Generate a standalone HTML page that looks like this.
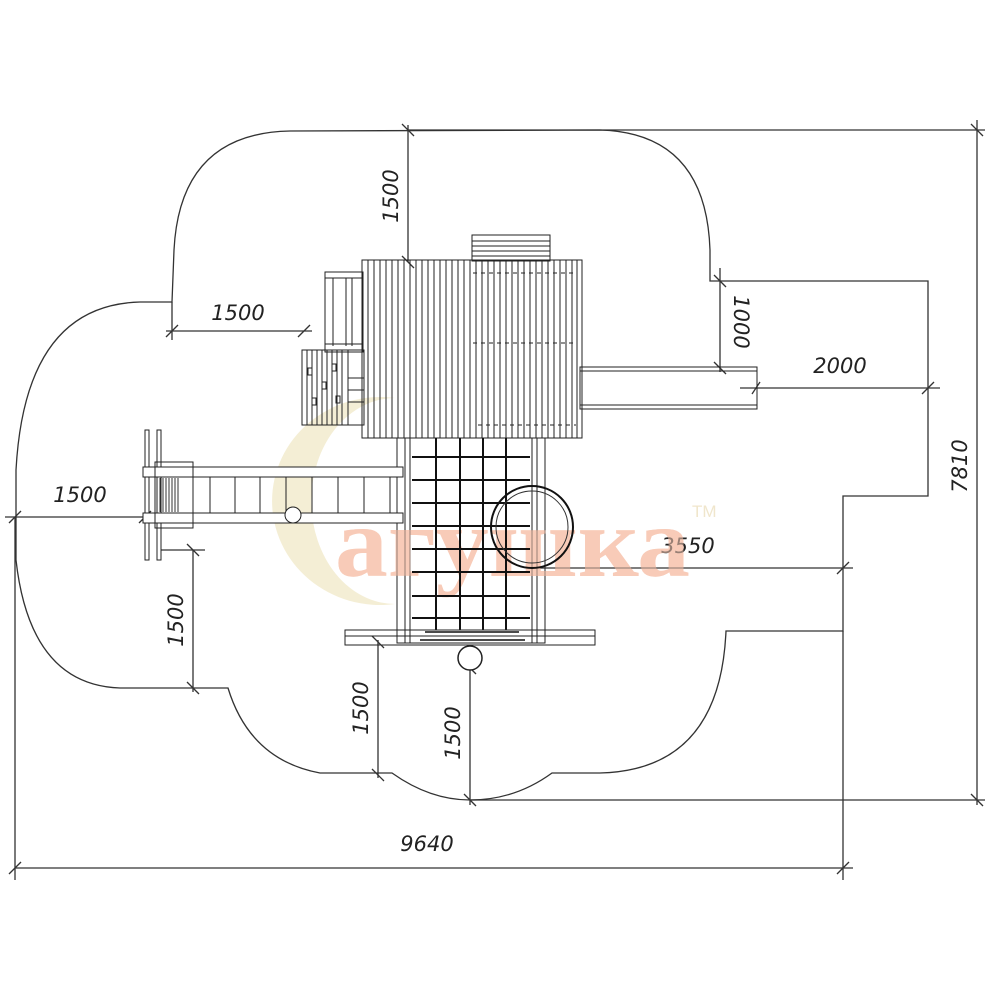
<!DOCTYPE html>
<html><head><meta charset="utf-8"><style>
html,body{margin:0;padding:0;background:#fff;}
svg{display:block}
.l{stroke:#333;stroke-width:1.3;fill:none}
.t{font-family:"DejaVu Sans","Liberation Sans",sans-serif;font-style:italic;font-size:21px;fill:#222;}
.s{stroke:#222;stroke-width:1;fill:none}
</style></head><body>
<svg width="1000" height="1000" viewBox="0 0 1000 1000" xmlns="http://www.w3.org/2000/svg">
<!-- watermark -->
<path d="M395,398 A108,104 0 1 0 395,604 A78,96 0 1 1 395,398 Z" fill="#f3ecd0" opacity="0.9"/>
<text x="335" y="576" font-family="Liberation Serif,serif" font-weight="bold" font-size="100" fill="#f8cbb8" textLength="355" lengthAdjust="spacingAndGlyphs">агушка</text>
<text x="692" y="517" font-family="Liberation Sans,sans-serif" font-size="17" fill="#f0e6cc">TM</text>

<!-- outline -->
<path class="l" d="M172,302 L174,250 Q180,133 290,131 L600,130 Q706,133 710,250 L710,281 L928,281 L928,496 L843,496 L843,631 L726,631 Q720,770 600,773 L552,773 Q515,800 470,800 Q430,800 392,773 L376,773 L320,773 Q250,760 228,688 L120,688 Q30,685 16,560 L16,470 Q25,305 140,302 Z"/>

<!-- dimension lines -->
<g class="l">
<line x1="408" y1="125" x2="408" y2="262"/><line x1="408" y1="130" x2="985" y2="130"/>
<line x1="166" y1="331" x2="312" y2="331"/><line x1="172" y1="302" x2="172" y2="340"/>
<line x1="720" y1="268" x2="720" y2="372"/>
<line x1="740" y1="388" x2="940" y2="388"/>
<line x1="977" y1="120" x2="977" y2="805"/>
<line x1="5" y1="517" x2="145" y2="517"/>
<line x1="193" y1="550" x2="193" y2="692"/><line x1="160" y1="550" x2="205" y2="550"/>
<line x1="378" y1="640" x2="378" y2="778"/>
<line x1="470" y1="668" x2="470" y2="805"/><line x1="470" y1="800" x2="985" y2="800"/>
<line x1="540" y1="568" x2="853" y2="568"/>
<line x1="15" y1="868" x2="853" y2="868"/><line x1="15" y1="517" x2="15" y2="880"/><line x1="843" y1="631" x2="843" y2="880"/>
</g>
<g class="l" stroke-width="1.4">
<line x1="402" y1="124" x2="414" y2="136"/><line x1="402" y1="256" x2="414" y2="268"/>
<line x1="166" y1="337" x2="178" y2="325"/><line x1="298" y1="337" x2="310" y2="325"/>
<line x1="714" y1="275" x2="726" y2="287"/><line x1="714" y1="362" x2="726" y2="374"/>
<line x1="752" y1="394" x2="760" y2="382"/><line x1="922" y1="394" x2="934" y2="382"/>
<line x1="971" y1="124" x2="983" y2="136"/><line x1="971" y1="794" x2="983" y2="806"/>
<line x1="9" y1="523" x2="21" y2="511"/><line x1="139" y1="523" x2="151" y2="511"/>
<line x1="187" y1="544" x2="199" y2="556"/><line x1="187" y1="682" x2="199" y2="694"/>
<line x1="372" y1="636" x2="384" y2="648"/><line x1="372" y1="769" x2="384" y2="781"/>
<line x1="464" y1="662" x2="476" y2="674"/><line x1="464" y1="794" x2="476" y2="806"/>
<line x1="837" y1="574" x2="849" y2="562"/>
<line x1="9" y1="874" x2="21" y2="862"/><line x1="837" y1="874" x2="849" y2="862"/>
</g>
<!-- labels -->
<text class="t" transform="translate(398,196) rotate(-90)" text-anchor="middle">1500</text>
<text class="t" x="238" y="320" text-anchor="middle">1500</text>
<text class="t" transform="translate(734,322) rotate(90)" text-anchor="middle">1000</text>
<text class="t" x="840" y="373" text-anchor="middle">2000</text>
<text class="t" transform="translate(967,466) rotate(-90)" text-anchor="middle">7810</text>
<text class="t" x="80" y="502" text-anchor="middle">1500</text>
<text class="t" transform="translate(183,620) rotate(-90)" text-anchor="middle">1500</text>
<text class="t" transform="translate(368,708) rotate(-90)" text-anchor="middle">1500</text>
<text class="t" transform="translate(460,733) rotate(-90)" text-anchor="middle">1500</text>
<text class="t" x="688" y="553" text-anchor="middle">3550</text>
<text class="t" x="427" y="851" text-anchor="middle">9640</text>

<!-- slide right -->
<rect class="s" x="580" y="367" width="177" height="42" fill="#fff"/>
<line class="s" x1="580" y1="371" x2="757" y2="371"/><line class="s" x1="580" y1="405" x2="757" y2="405"/>

<!-- top box -->
<rect class="s" x="472" y="235" width="78" height="26" fill="#fff"/>
<g class="s"><line x1="472" y1="241" x2="550" y2="241"/><line x1="472" y1="246" x2="550" y2="246"/><line x1="472" y1="251" x2="550" y2="251"/><line x1="472" y1="256" x2="550" y2="256"/></g>

<!-- small stairs top-left -->
<rect class="s" x="325" y="272" width="38" height="80" fill="#fff"/>
<g class="s"><line x1="333" y1="278" x2="333" y2="346"/><line x1="346" y1="278" x2="346" y2="346"/><line x1="352" y1="278" x2="352" y2="346"/><line x1="325" y1="278" x2="363" y2="278"/><line x1="325" y1="344" x2="363" y2="344"/></g>
<!-- platform -->
<rect class="s" x="302" y="350" width="62" height="75" fill="#fff"/>
<g class="s">
<line x1="307" y1="350" x2="307" y2="425"/><line x1="312" y1="350" x2="312" y2="425"/><line x1="317" y1="350" x2="317" y2="425"/><line x1="322" y1="350" x2="322" y2="425"/><line x1="327" y1="350" x2="327" y2="425"/><line x1="332" y1="350" x2="332" y2="425"/><line x1="337" y1="350" x2="337" y2="425"/><line x1="342" y1="350" x2="342" y2="425"/><line x1="348" y1="350" x2="348" y2="425"/>
<line x1="348" y1="378" x2="364" y2="378"/><line x1="348" y1="390" x2="364" y2="390"/><line x1="348" y1="402" x2="364" y2="402"/>
<rect x="308" y="368" width="4" height="7"/><rect x="332" y="364" width="4" height="7"/><rect x="322" y="382" width="4" height="7"/><rect x="312" y="398" width="4" height="7"/><rect x="336" y="396" width="4" height="7"/>
</g>

<!-- roof -->
<rect class="s" x="362" y="260" width="220" height="178" fill="#fff"/>
<g class="s" stroke-width="0.9">
<line x1="368" y1="260" x2="368" y2="438"/><line x1="374" y1="260" x2="374" y2="438"/><line x1="380" y1="260" x2="380" y2="438"/><line x1="386" y1="260" x2="386" y2="438"/><line x1="392" y1="260" x2="392" y2="438"/><line x1="398" y1="260" x2="398" y2="438"/><line x1="404" y1="260" x2="404" y2="438"/><line x1="410" y1="260" x2="410" y2="438"/><line x1="416" y1="260" x2="416" y2="438"/><line x1="422" y1="260" x2="422" y2="438"/><line x1="428" y1="260" x2="428" y2="438"/><line x1="434" y1="260" x2="434" y2="438"/><line x1="440" y1="260" x2="440" y2="438"/><line x1="446" y1="260" x2="446" y2="438"/><line x1="452" y1="260" x2="452" y2="438"/><line x1="458" y1="260" x2="458" y2="438"/><line x1="464" y1="260" x2="464" y2="438"/><line x1="470" y1="260" x2="470" y2="438"/><line x1="476" y1="260" x2="476" y2="438"/><line x1="482" y1="260" x2="482" y2="438"/><line x1="488" y1="260" x2="488" y2="438"/><line x1="494" y1="260" x2="494" y2="438"/><line x1="500" y1="260" x2="500" y2="438"/><line x1="506" y1="260" x2="506" y2="438"/><line x1="512" y1="260" x2="512" y2="438"/><line x1="518" y1="260" x2="518" y2="438"/><line x1="524" y1="260" x2="524" y2="438"/><line x1="530" y1="260" x2="530" y2="438"/><line x1="536" y1="260" x2="536" y2="438"/><line x1="542" y1="260" x2="542" y2="438"/><line x1="548" y1="260" x2="548" y2="438"/><line x1="554" y1="260" x2="554" y2="438"/><line x1="560" y1="260" x2="560" y2="438"/><line x1="566" y1="260" x2="566" y2="438"/><line x1="572" y1="260" x2="572" y2="438"/><line x1="577" y1="260" x2="577" y2="438"/>
</g>
<g stroke="#222" stroke-width="1" stroke-dasharray="4,4"><line x1="473" y1="273" x2="576" y2="273"/><line x1="473" y1="343" x2="576" y2="343"/><line x1="478" y1="425" x2="576" y2="425"/></g>

<!-- tower -->
<rect class="s" x="397" y="438" width="148" height="205" fill="#fff"/>
<g class="s"><line x1="405" y1="438" x2="405" y2="643"/><line x1="410" y1="438" x2="410" y2="643"/><line x1="532" y1="438" x2="532" y2="643"/><line x1="537" y1="438" x2="537" y2="643"/></g>
<text x="335" y="576" font-family="Liberation Serif,serif" font-weight="bold" font-size="100" fill="#f8cbb8" opacity="0.55" textLength="355" lengthAdjust="spacingAndGlyphs">агушка</text>
<g stroke="#111" stroke-width="2">
<line x1="436" y1="438" x2="436" y2="630"/><line x1="460" y1="438" x2="460" y2="630"/><line x1="483" y1="438" x2="483" y2="630"/><line x1="506" y1="438" x2="506" y2="630"/>
<line x1="412" y1="457" x2="530" y2="457"/><line x1="412" y1="480" x2="530" y2="480"/><line x1="412" y1="503" x2="530" y2="503"/><line x1="412" y1="526" x2="530" y2="526"/><line x1="412" y1="549" x2="530" y2="549"/><line x1="412" y1="572" x2="530" y2="572"/><line x1="412" y1="596" x2="530" y2="596"/><line x1="412" y1="618" x2="530" y2="618"/>
</g>
<circle cx="532" cy="527" r="41" fill="none" stroke="#111" stroke-width="2"/>
<circle cx="532" cy="527" r="36" fill="none" stroke="#333" stroke-width="1"/>
<rect class="s" x="345" y="630" width="250" height="15" fill="#fff"/>
<line class="s" x1="345" y1="636" x2="595" y2="636"/>
<g stroke="#111" stroke-width="1.5"><line x1="425" y1="632" x2="519" y2="632"/><line x1="420" y1="640" x2="525" y2="640"/></g>
<circle cx="470" cy="658" r="12" fill="#fff" stroke="#222" stroke-width="1.5"/>

<!-- left ladder -->
<g class="s">
<rect x="145" y="430" width="4" height="130" fill="#fff"/><rect x="157" y="430" width="4" height="130" fill="#fff"/>
<rect x="143" y="467" width="260" height="10" fill="#fff"/>
<rect x="143" y="513" width="260" height="10" fill="#fff"/>
<rect x="155" y="462" width="38" height="66"/>
<line x1="210" y1="477" x2="210" y2="513"/><line x1="235" y1="477" x2="235" y2="513"/><line x1="260" y1="477" x2="260" y2="513"/><line x1="286" y1="477" x2="286" y2="513"/><line x1="312" y1="477" x2="312" y2="513"/><line x1="338" y1="477" x2="338" y2="513"/><line x1="364" y1="477" x2="364" y2="513"/><line x1="390" y1="477" x2="390" y2="513"/>
<circle cx="293" cy="515" r="8" fill="#fff"/>
</g>
<g stroke="#333" stroke-width="1"><line x1="160" y1="478" x2="160" y2="512"/><line x1="163" y1="478" x2="163" y2="512"/><line x1="166" y1="478" x2="166" y2="512"/><line x1="169" y1="478" x2="169" y2="512"/><line x1="172" y1="478" x2="172" y2="512"/><line x1="175" y1="478" x2="175" y2="512"/><line x1="178" y1="478" x2="178" y2="512"/></g>
</svg>
</body></html>
